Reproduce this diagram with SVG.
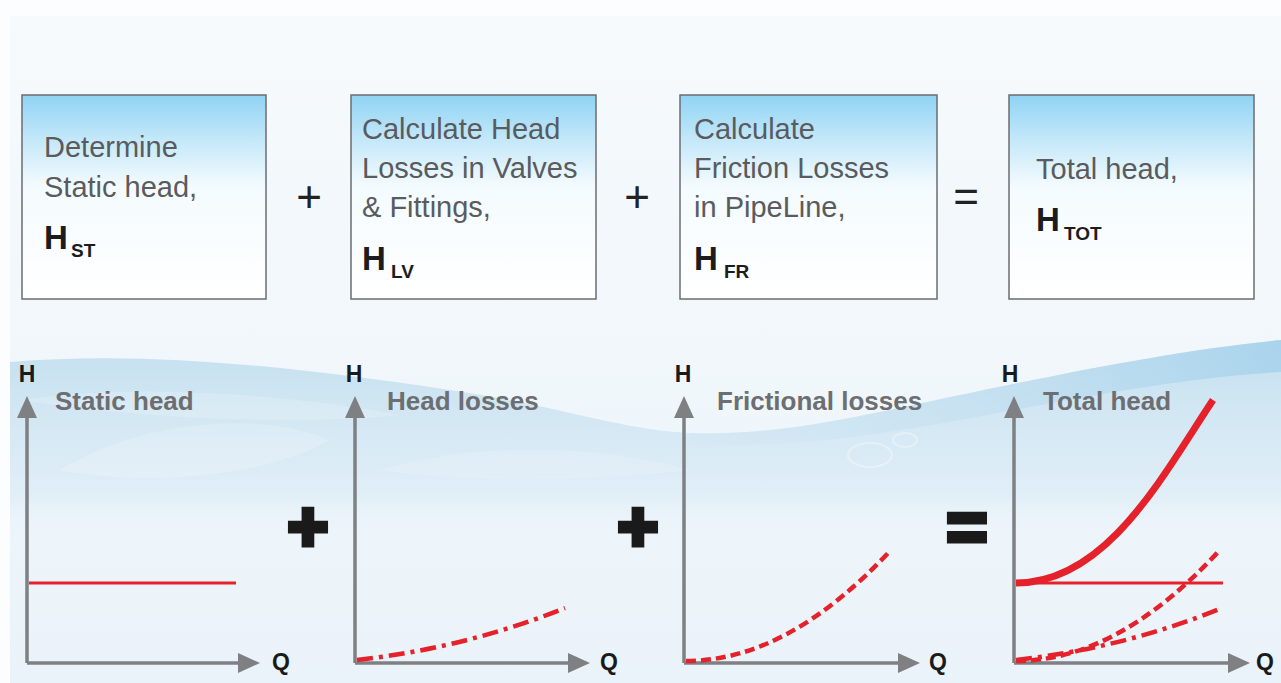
<svg xmlns="http://www.w3.org/2000/svg" width="1281" height="683" viewBox="0 0 1281 683">
  <defs>
    <linearGradient id="bg" x1="0" y1="0" x2="0" y2="683" gradientUnits="userSpaceOnUse">
      <stop offset="0" stop-color="#f6fafd"/>
      <stop offset="0.5" stop-color="#f1f7fb"/>
      <stop offset="1" stop-color="#eaf3f9"/>
    </linearGradient>
    <linearGradient id="boxfill" x1="0" y1="0" x2="0" y2="1">
      <stop offset="0" stop-color="#8fd3f4"/>
      <stop offset="0.22" stop-color="#c4e8f9"/>
      <stop offset="0.45" stop-color="#f4fbfe"/>
      <stop offset="1" stop-color="#ffffff"/>
    </linearGradient>
    <linearGradient id="water" x1="0" y1="340" x2="0" y2="545" gradientUnits="userSpaceOnUse">
      <stop offset="0" stop-color="#c3dfef"/>
      <stop offset="0.35" stop-color="#d2e7f3"/>
      <stop offset="0.75" stop-color="#e0eef7"/>
      <stop offset="1" stop-color="#eef6fb" stop-opacity="0"/>
    </linearGradient>
    <linearGradient id="surf" x1="0" y1="0" x2="1" y2="0">
      <stop offset="0" stop-color="#cfe4f1" stop-opacity="0.2"/>
      <stop offset="0.6" stop-color="#b5d9ee" stop-opacity="0.5"/>
      <stop offset="1" stop-color="#a3d1ec" stop-opacity="0.8"/>
    </linearGradient>
    <marker id="arr" viewBox="0 0 22 20" markerWidth="22" markerHeight="20" refX="2" refY="10" orient="auto" markerUnits="userSpaceOnUse">
      <path d="M0,0 L22,10 L0,20 z" fill="#7e8083"/>
    </marker>
    <style>
      .box { fill: url(#boxfill); stroke: #6b6c70; stroke-width: 1.5; }
      .bt { font-family: "Liberation Sans", Arial, sans-serif; font-size: 29px; fill: #5a5b5e; }
      .hb { font-family: "Liberation Sans", Arial, sans-serif; font-size: 33px; font-weight: bold; fill: #1c1c1c; }
      .hs { font-family: "Liberation Sans", Arial, sans-serif; font-size: 19px; font-weight: bold; fill: #1c1c1c; }
      .op { font-family: "Liberation Sans", Arial, sans-serif; font-size: 44px; fill: #222; text-anchor: middle; }
      .bop { font-family: "Liberation Sans", Arial, sans-serif; font-size: 70px; font-weight: bold; fill: #1a1a1a; stroke: #1a1a1a; stroke-width: 5; stroke-linejoin: miter; text-anchor: middle; }
      .ax { stroke: #7e8083; stroke-width: 3.5; fill: none; marker-end: url(#arr); }
      .al { font-family: "Liberation Sans", Arial, sans-serif; font-size: 23px; font-weight: bold; fill: #1a1a1a; text-anchor: middle; }
      .ct { font-family: "Liberation Sans", Arial, sans-serif; font-size: 26px; font-weight: bold; fill: #6d6e71; }
      .red { stroke: #e5222b; fill: none; }
      .solid { stroke-width: 3; }
      .thick { stroke-width: 7; }
      .dash { stroke-width: 4.5; stroke-dasharray: 10 5; }
      .dashdot { stroke-width: 4.5; stroke-dasharray: 16 6 4 6; }
    </style>
  </defs>

  <!-- background -->
  <rect x="0" y="0" width="1281" height="683" fill="url(#bg)"/>
  <rect x="0" y="0" width="1281" height="16" fill="#fcfdfe"/>
  <rect x="0" y="0" width="10" height="683" fill="#fcfdfe"/>

  <!-- water band -->
  <g id="water-bg">
    <path d="M10,362 C150,350 300,368 450,390 C560,406 620,430 690,433 C780,436 860,416 960,395 C1080,370 1180,350 1281,340 L1281,560 L10,560 Z" fill="url(#water)"/>
    <path d="M690,433 C780,436 860,416 960,395 C1080,370 1180,350 1281,340 L1281,372 C1180,378 1080,398 960,420 C860,438 780,448 690,445 Z" fill="url(#surf)"/>
    <path d="M60,470 C140,420 260,410 330,440 C280,470 160,490 60,470 Z" fill="#ffffff" opacity="0.18"/>
    <path d="M20,400 C120,385 260,390 400,415 C300,425 150,420 20,400 Z" fill="#ffffff" opacity="0.18"/>
    <path d="M380,470 C480,440 600,445 690,470 C600,480 480,485 380,470 Z" fill="#ffffff" opacity="0.14"/>
    <ellipse cx="870" cy="455" rx="22" ry="12" fill="none" stroke="#ffffff" stroke-width="2" opacity="0.35"/>
    <ellipse cx="905" cy="440" rx="12" ry="7" fill="none" stroke="#ffffff" stroke-width="2" opacity="0.35"/>
  </g>

  <!-- top boxes -->
  <g id="box-static">
    <rect class="box" x="22" y="95" width="244" height="204"/>
    <text class="bt" x="44" y="157">Determine</text>
    <text class="bt" x="44" y="197">Static head,</text>
    <text class="hb" x="44" y="249">H</text>
    <text class="hs" x="71" y="257">ST</text>
  </g>
  <g id="box-valves">
    <rect class="box" x="351" y="95" width="245" height="204"/>
    <text class="bt" x="362" y="139">Calculate Head</text>
    <text class="bt" x="362" y="178">Losses in Valves</text>
    <text class="bt" x="362" y="217">&amp; Fittings,</text>
    <text class="hb" x="362" y="270">H</text>
    <text class="hs" x="391" y="278">LV</text>
  </g>
  <g id="box-friction">
    <rect class="box" x="680" y="95" width="257" height="204"/>
    <text class="bt" x="694" y="139">Calculate</text>
    <text class="bt" x="694" y="178">Friction Losses</text>
    <text class="bt" x="694" y="217">in PipeLine,</text>
    <text class="hb" x="694" y="270">H</text>
    <text class="hs" x="724" y="278">FR</text>
  </g>
  <g id="box-total">
    <rect class="box" x="1009" y="95" width="245" height="204"/>
    <text class="bt" x="1036" y="179">Total head,</text>
    <text class="hb" x="1036" y="231">H</text>
    <text class="hs" x="1064" y="240">TOT</text>
  </g>

  <!-- top operators -->
  <g id="top-operators">
    <text class="op" x="309" y="212">+</text>
    <text class="op" x="637" y="212">+</text>
    <text class="op" x="966" y="212">=</text>
  </g>

  <!-- axes (connectors) -->
  <g id="connectors">
    <line class="ax" x1="27" y1="663" x2="27" y2="416"/>
    <line class="ax" x1="27" y1="663" x2="240" y2="663"/>
    <line class="ax" x1="355" y1="663" x2="355" y2="416"/>
    <line class="ax" x1="355" y1="663" x2="570" y2="663"/>
    <line class="ax" x1="684" y1="663" x2="684" y2="416"/>
    <line class="ax" x1="684" y1="663" x2="900" y2="663"/>
    <line class="ax" x1="1014" y1="663" x2="1014" y2="416"/>
    <line class="ax" x1="1014" y1="663" x2="1230" y2="663"/>
  </g>

  <!-- charts -->
  <g id="chart-static">
    <text class="al" x="27" y="382">H</text>
    <text class="al" x="281" y="670">Q</text>
    <text class="ct" x="55" y="410">Static head</text>
    <line class="red solid" x1="29" y1="583" x2="236" y2="583"/>
  </g>
  <g id="chart-headloss">
    <text class="al" x="354" y="382">H</text>
    <text class="al" x="609" y="670">Q</text>
    <text class="ct" x="387" y="410">Head losses</text>
    <path class="red dashdot" d="M357,660 Q465,648 565,608"/>
  </g>
  <g id="chart-friction">
    <text class="al" x="683" y="382">H</text>
    <text class="al" x="938" y="670">Q</text>
    <text class="ct" x="717" y="410">Frictional losses</text>
    <path class="red dash" d="M686,661 Q787,661 889,552"/>
  </g>
  <g id="chart-total">
    <text class="al" x="1010" y="382">H</text>
    <text class="al" x="1265" y="670">Q</text>
    <text class="ct" x="1043" y="410">Total head</text>
    <line class="red solid" x1="1016" y1="583" x2="1223" y2="583"/>
    <path class="red dash" d="M1016,661 Q1117,661 1218,552"/>
    <path class="red dashdot" d="M1016,660 Q1124,648 1222,608"/>
    <path class="red thick" d="M1016,583 C1107,583 1163,475 1213,400"/>
  </g>

  <!-- bottom operators -->
  <g id="bottom-operators">
    <text class="bop" x="308" y="551">+</text>
    <text class="bop" x="638" y="551">+</text>
    <text class="bop" x="967" y="551">=</text>
  </g>
</svg>
